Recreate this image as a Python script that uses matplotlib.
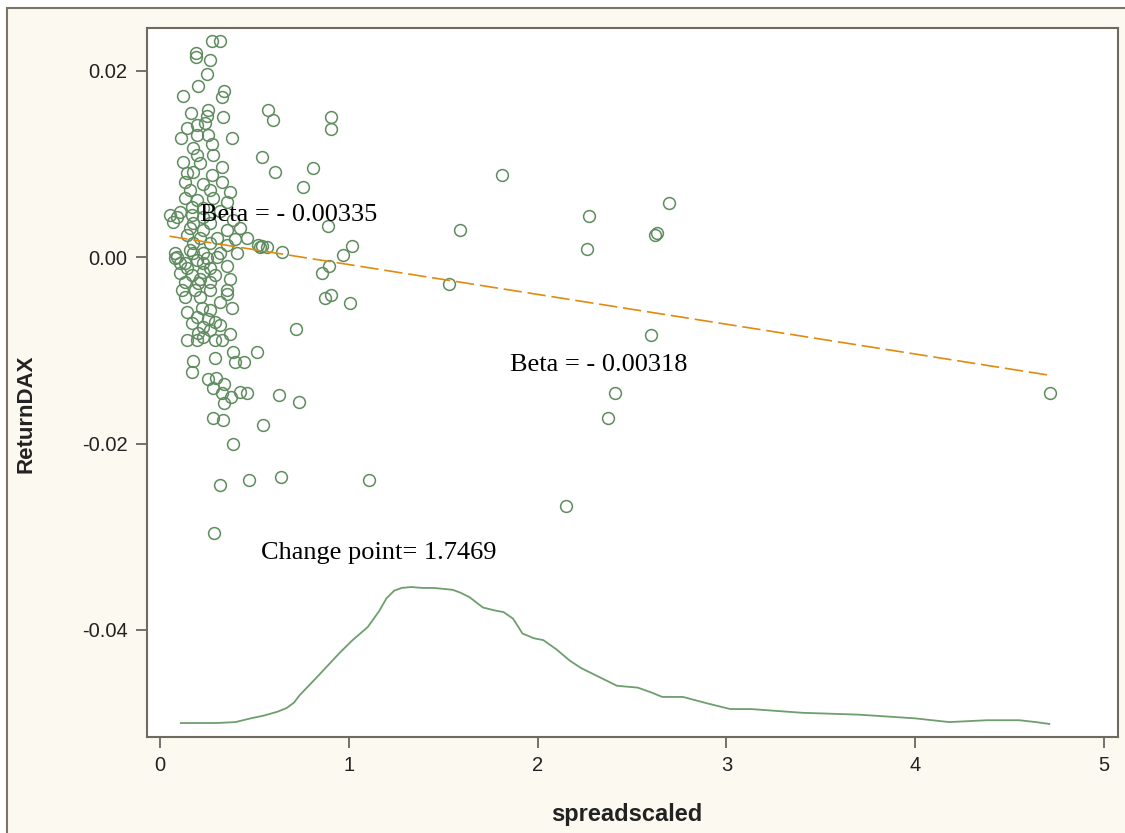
import matplotlib
matplotlib.use("Agg")
import matplotlib.pyplot as plt
from matplotlib.patches import Rectangle

# ---- data ----
spread = [0.275, 0.318, 0.191, 0.191, 0.265, 0.249, 0.201, 0.122, 0.339, 0.328,
          0.164, 0.254, 0.249, 0.334, 0.572, 0.599, 0.143, 0.196, 0.238, 0.111,
          0.196, 0.254, 0.381, 0.275, 0.906, 0.906,
          0.175, 0.196, 0.281, 0.540, 0.122, 0.212, 0.328, 0.609, 0.143, 0.175,
          0.275, 0.132, 0.228, 0.328, 0.159, 0.265, 0.371, 0.132, 0.196, 0.281,
          0.355, 0.169, 0.228, 0.318, 0.106, 0.053, 0.090, 0.169, 0.228, 0.387,
          0.069, 0.175, 0.265, 0.424, 0.159, 0.228, 0.355, 0.143, 0.212, 0.302,
          0.397, 0.461, 0.175, 0.265, 0.355, 0.530, 0.567, 0.159, 0.228, 0.318,
          0.090,
          0.079, 0.132, 0.196, 0.249, 0.302, 0.408, 0.106, 0.169, 0.228, 0.291,
          0.355, 0.371, 0.132, 0.201, 0.265, 0.117, 0.185, 0.265, 0.355, 0.132,
          0.212, 0.355, 0.318, 0.381, 0.143, 0.222, 0.265, 0.196, 0.254, 0.291,
          0.169, 0.228, 0.318, 0.201, 0.265, 0.371, 0.143, 0.196, 0.291, 0.328,
          0.228, 0.387, 0.397, 0.445, 0.514, 0.291, 0.175, 0.079, 0.175, 0.106,
          0.228, 0.265, 0.143, 0.212,
          0.169, 0.254, 0.297, 0.281, 0.339, 0.328, 0.376, 0.424, 0.461, 0.339,
          0.281, 0.334, 0.387, 0.546, 0.630, 0.318, 0.471, 0.641, 0.286,
          0.736, 0.720, 1.107, 1.006, 1.017, 0.969, 0.895, 0.858, 0.874, 0.906,
          0.810, 0.757, 0.890, 0.519, 0.540, 0.646,
          1.531, 1.589, 1.811, 2.150, 2.262, 2.272, 2.373, 2.410, 2.601, 2.622,
          2.632, 2.696, 4.714]
ret_dax = [0.0232, 0.0232, 0.0219, 0.0215, 0.0212, 0.0197, 0.0184, 0.0173, 0.0178, 0.0172,
           0.0155, 0.0158, 0.0152, 0.0151, 0.0158, 0.0147, 0.0139, 0.0142, 0.0144, 0.0128,
           0.0131, 0.0131, 0.0128, 0.0122, 0.0151, 0.0138,
           0.0117, 0.0110, 0.0110, 0.0108, 0.0102, 0.0101, 0.0097, 0.0091, 0.0090, 0.0091,
           0.0088, 0.0081, 0.0079, 0.0081, 0.0072, 0.0072, 0.0070, 0.0063, 0.0061, 0.0063,
           0.0059, 0.0054, 0.0053, 0.0050, 0.0048, 0.0045, 0.0043, 0.0045, 0.0043, 0.0040,
           0.0038, 0.0037, 0.0037, 0.0031, 0.0031, 0.0029, 0.0029, 0.0024, 0.0021, 0.0021,
           0.0020, 0.0021, 0.0015, 0.0015, 0.0013, 0.0011, 0.0011, 0.0008, 0.0005, 0.0005,
           0.0000,
           -0.0001, -0.0006, -0.0003, -0.0001, 0.0000, 0.0004, -0.0017, -0.0019, -0.0016, -0.0019,
           -0.0009, -0.0023, -0.0027, -0.0028, -0.0027, -0.0035, -0.0035, -0.0035, -0.0035, -0.0043,
           -0.0043, -0.0039, -0.0048, -0.0055, -0.0059, -0.0054, -0.0057, -0.0064, -0.0066, -0.0070,
           -0.0071, -0.0075, -0.0073, -0.0081, -0.0078, -0.0082, -0.0089, -0.0089, -0.0089, -0.0089,
           -0.0086, -0.0102, -0.0113, -0.0113, -0.0102, -0.0108, -0.0111, 0.0005, 0.0004, -0.0006,
           -0.0006, -0.0012, -0.0012, -0.0023,
           -0.0123, -0.0131, -0.0130, -0.0140, -0.0136, -0.0146, -0.0150, -0.0145, -0.0146, -0.0157,
           -0.0173, -0.0175, -0.0201, -0.0180, -0.0148, -0.0244, -0.0239, -0.0236, -0.0296,
           -0.0155, -0.0077, -0.0239, -0.0049, 0.0012, 0.0002, -0.0009, -0.0017, -0.0044, -0.0041,
           0.0096, 0.0075, 0.0034, 0.0013, 0.0012, 0.0006,
           -0.0029, 0.0029, 0.0088, -0.0267, 0.0009, 0.0044, -0.0173, -0.0146, -0.0083, 0.0024,
           0.0026, 0.0058, -0.0146]

# fitted regression line (end points)
reg_x = [0.05, 4.72]
reg_y = [0.00225, -0.0127]

# scaled density of spreadscaled
dens_x = [0.11, 0.20, 0.30, 0.40, 0.48, 0.55, 0.62, 0.67, 0.71, 0.74, 0.83, 0.95, 1.02,
          1.10, 1.16, 1.20, 1.24, 1.28, 1.33, 1.39, 1.45, 1.50, 1.55, 1.59, 1.64, 1.71,
          1.77, 1.82, 1.87, 1.92, 1.98, 2.03, 2.10, 2.17, 2.23, 2.29, 2.36, 2.42, 2.53,
          2.60, 2.66, 2.77, 2.90, 3.02, 3.13, 3.40, 3.70, 4.00, 4.18, 4.38, 4.55, 4.64,
          4.71]
dens_y = [-0.0500, -0.0500, -0.0500, -0.0499, -0.0495, -0.0492, -0.0488, -0.0484, -0.0478,
          -0.0470, -0.0451, -0.0425, -0.0411, -0.0397, -0.0380, -0.0366, -0.0358, -0.0355,
          -0.0354, -0.0355, -0.0355, -0.0356, -0.0357, -0.0360, -0.0365, -0.0376, -0.0379,
          -0.0381, -0.0388, -0.0404, -0.0409, -0.0411, -0.0421, -0.0433, -0.0441, -0.0447,
          -0.0454, -0.0460, -0.0462, -0.0467, -0.0472, -0.0472, -0.0479, -0.0485, -0.0485,
          -0.0489, -0.0491, -0.0495, -0.0499, -0.0497, -0.0497, -0.0499, -0.0501]

annotations = [("Beta = - 0.00335", 0.212, 0.0045),
               ("Beta = - 0.00318", 1.854, -0.0116),
               ("Change point= 1.7469", 0.535, -0.0317)]

x_ticks = [0, 1, 2, 3, 4, 5]
y_ticks = [-0.04, -0.02, 0.00, 0.02]

# ---- figure ----
W, H = 1125, 833
fig = plt.figure(figsize=(W / 100, H / 100), dpi=100, facecolor="white")
bg = Rectangle((7 / W, -0.1), 1.2, 1 - 8 / H + 0.1, transform=fig.transFigure,
               facecolor="#FCF9F1", edgecolor="#7A7466", linewidth=1.5, zorder=-10)
fig.add_artist(bg)

ax = fig.add_axes([147 / W, 1 - 737 / H, (1118 - 147) / W, (737 - 28) / H])
ax.set_zorder(1)
ax.set_facecolor("white")

green = "#5E8C5E"
ax.plot(spread, ret_dax, linestyle="none", marker="o", markersize=8.5,
        markerfacecolor="none", markeredgecolor=green, markeredgewidth=1.1, zorder=3)
ax.plot(reg_x, reg_y, color="#E08A0E", linewidth=1.2, dashes=(11, 3.5), zorder=4)
ax.plot(dens_x, dens_y, color="#6E9E6E", linewidth=1.3, zorder=3)

for txt, tx, ty in annotations:
    ax.text(tx, ty, txt, fontfamily="Liberation Serif", fontsize=19, color="black",
            va="center", ha="left", zorder=5)

ax.set_xlim(-0.069, 5.074)
ax.set_ylim(-0.0515, 0.0246)
ax.set_xticks(x_ticks)
ax.set_xticklabels([str(t) for t in x_ticks])
ax.set_yticks(y_ticks)
ax.set_yticklabels([f"{t:.2f}" for t in y_ticks])

for s in ax.spines.values():
    s.set_color("#6E6A5E")
    s.set_linewidth(1.5)
ax.tick_params(direction="out", length=8, width=1.2, color="#5A5A5A",
               labelsize=14.5, labelcolor="#222222", pad=6)
for lab in ax.get_xticklabels() + ax.get_yticklabels():
    lab.set_fontfamily("Liberation Sans")

ax.set_xlabel("spreadscaled", fontsize=17, fontweight="bold", fontfamily="Liberation Sans",
              color="#222222")
ax.set_ylabel("ReturnDAX", fontsize=16, fontweight="bold", fontfamily="Liberation Sans",
              color="#222222")
ax.xaxis.set_label_coords((627 - 147) / (1118 - 147), -(803 - 737) / (737 - 28))
ax.yaxis.set_label_coords(-(147 - 37) / (1118 - 147), (737 - 414) / (737 - 28))

fig.savefig("out.png", dpi=100, facecolor=fig.get_facecolor())
